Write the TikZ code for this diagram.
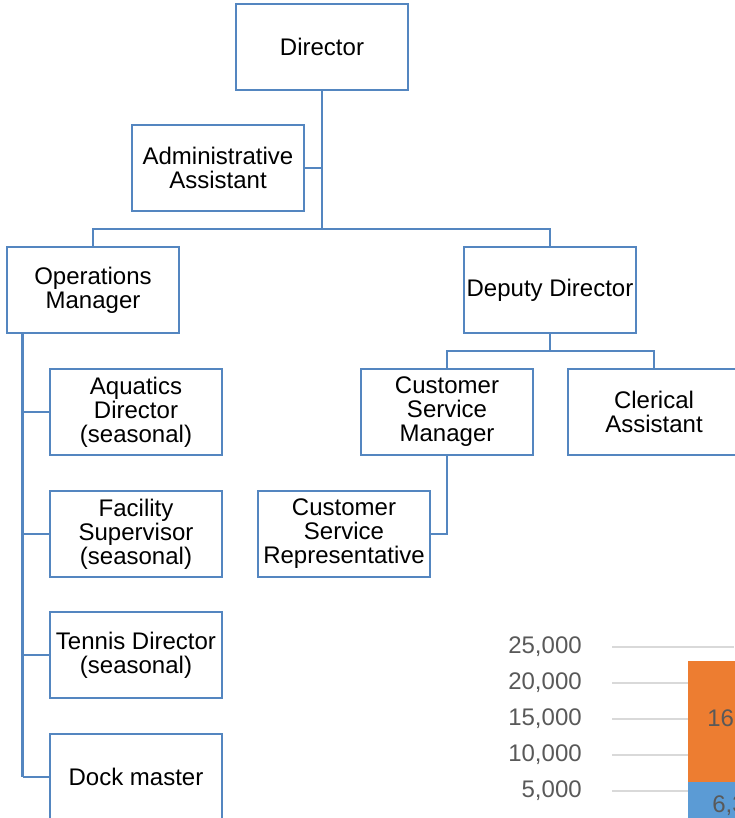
\documentclass[tikz,border=0pt]{standalone}
\usepackage{fontspec}
\setmainfont{Liberation Sans}
\definecolor{caja}{RGB}{84,134,192}
\definecolor{naranja}{RGB}{237,125,49}
\definecolor{azul}{RGB}{91,155,213}
\definecolor{rejilla}{RGB}{217,217,217}
\definecolor{gristxt}{RGB}{89,89,89}

\begin{document}
\begin{tikzpicture}[x=1pt,y=-1pt,line width=2.6pt,
  puesto/.style={draw=caja,fill=white,minimum width=172pt,minimum height=86pt,inner sep=0pt,
    align=center,font=\fontsize{24}{24}\selectfont},
  enlace/.style={draw=caja,line width=2.6pt}]
  \useasboundingbox (0,0) rectangle (734,818);
  % organigrama
  \node[puesto] (dir) at (322,47) {Director};
  \node[puesto] (adm) at (218,168) {Administrative\\Assistant};
  \node[puesto] (ops) at (93,290) {Operations\\Manager};
  \node[puesto] (dep) at (550,290) {Deputy Director};
  \node[puesto] (aqu) at (136,412) {Aquatics\\Director\\(seasonal)};
  \node[puesto] (fac) at (136,534) {Facility\\Supervisor\\(seasonal)};
  \node[puesto] (ten) at (136,655) {Tennis Director\\(seasonal)};
  \node[puesto] (dock) at (136,777) {Dock master};
  \node[puesto] (csm) at (447,412) {Customer\\Service\\Manager};
  \node[puesto] (cle) at (654,412) {Clerical\\Assistant};
  \node[puesto] (csr) at (344,534) {Customer\\Service\\Representative};
  % conexiones
  \coordinate (barra) at (322,229);
  \coordinate (barra2) at (550,351);
  \draw[enlace] (dir) -- (barra) -| (ops);
  \draw[enlace] (barra) -| (dep);
  \draw[enlace] (adm.east) -- (adm.east -| barra);
  \draw[enlace] ([xshift=17pt]ops.south west) -- ([xshift=17pt]ops.south west |- dock.west);
  \foreach \n in {aqu,fac,ten,dock}
     \draw[enlace] ([xshift=17pt]ops.south west |- \n.west) -- (\n.west);
  \draw[enlace] (dep) -- (barra2) -| (csm);
  \draw[enlace] (barra2) -| (cle);
  \draw[enlace] (csm.south) |- (csr.east);
  % trozo de grafico
  \foreach \v [count=\i from 0] in {25,20,15,10,5} {
     \draw[rejilla,line width=1.5pt] (612,647+36*\i) -- (734,647+36*\i);
     \node[gristxt,anchor=east,inner sep=0pt,font=\fontsize{24}{24}\selectfont] (eje\v) at (583,647+36*\i) {\v,000};
  }
  \fill[naranja] (688,661) rectangle (740,782);
  \fill[azul] (688,782) rectangle (740,825);
  \node[gristxt,anchor=west,inner sep=0pt,font=\fontsize{24}{24}\selectfont] (val1) at (706,720) {16,};
  \node[gristxt,anchor=west,inner sep=0pt,font=\fontsize{24}{24}\selectfont] (val2) at (711,806) {6,3};
\end{tikzpicture}
\end{document}
